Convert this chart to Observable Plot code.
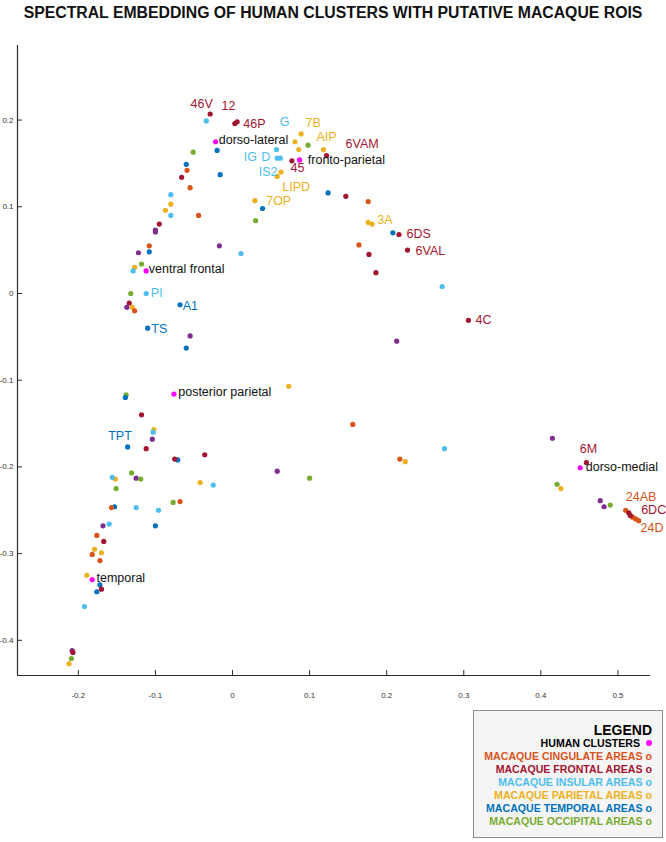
<!DOCTYPE html>
<html><head><meta charset="utf-8">
<script src="https://cdn.jsdelivr.net/npm/d3@7"></script>
<script src="https://cdn.jsdelivr.net/npm/@observablehq/plot@0.6"></script>
<style>
body{margin:0;background:#fff;font-family:"Liberation Sans",Arial,Helvetica,sans-serif;width:666px;height:842px;position:relative;overflow:hidden}
#title{position:absolute;left:0;top:4px;width:666px;text-align:center;font-weight:bold;font-size:15.8px;line-height:18px;color:#111;white-space:nowrap}
#chart{position:absolute;left:0;top:28px}
#legend{position:absolute;left:473px;top:710px;width:188px;height:126px;border:1px solid #8c8c8c;background:#f5f5f5;box-sizing:content-box}
#legend div{position:absolute;right:10px;white-space:nowrap;font-weight:bold;text-align:right}
</style></head><body>
<div id="title">SPECTRAL EMBEDDING OF HUMAN CLUSTERS WITH PUTATIVE MACAQUE ROIS</div>
<div id="chart"></div>
<div id="legend"></div>
<script>
// ---- data ----
const human = [[-0.022,0.175],[0.087,0.154],[-0.112,0.026],[-0.076,-0.116],[0.451,-0.201],[-0.182,-0.330]];
const frontal = [[-0.029,0.207],[0.003,0.196],[0.006,0.198],[-0.066,0.134],[-0.095,0.080],[0.077,0.153],[0.122,0.159],[0.147,0.112],[0.216,0.068],[0.227,0.050],[0.177,0.045],[0.186,0.024],[0.306,-0.031],[-0.134,-0.011],[-0.118,-0.140],[-0.112,-0.179],[-0.075,-0.191],[-0.036,-0.186],[0.459,-0.195],[0.514,-0.253],[0.516,-0.256],[-0.167,-0.286],[-0.170,-0.341],[-0.207,-0.414]];
const cingulate = [[-0.059,0.142],[-0.055,0.122],[-0.044,0.090],[-0.108,0.055],[0.176,0.106],[0.164,0.056],[-0.127,-0.020],[0.156,-0.151],[0.217,-0.191],[-0.068,-0.240],[-0.157,-0.247],[-0.176,-0.279],[-0.182,-0.301],[-0.172,-0.308],[0.510,-0.250],[0.519,-0.258],[0.523,-0.260],[0.527,-0.262]];
const insular = [[-0.034,0.199],[0.057,0.166],[0.058,0.156],[0.062,0.156],[-0.080,0.114],[-0.080,0.090],[0.011,0.046],[-0.129,0.026],[-0.112,0.000],[0.272,0.008],[-0.103,-0.160],[-0.156,-0.212],[-0.025,-0.221],[0.275,-0.179],[-0.125,-0.247],[-0.096,-0.250],[-0.160,-0.266],[-0.192,-0.361]];
const parietal = [[0.089,0.184],[0.081,0.175],[0.086,0.166],[0.118,0.166],[0.063,0.140],[0.058,0.135],[0.029,0.107],[-0.080,0.103],[-0.087,0.096],[0.176,0.082],[0.181,0.080],[-0.127,0.030],[-0.130,-0.016],[0.073,-0.107],[-0.102,-0.157],[-0.152,-0.214],[-0.042,-0.218],[0.224,-0.194],[0.426,-0.225],[-0.179,-0.295],[-0.170,-0.299],[-0.189,-0.325],[-0.212,-0.427]];
const temporal = [[-0.020,0.165],[-0.060,0.149],[-0.016,0.137],[0.039,0.098],[0.124,0.116],[0.208,0.070],[-0.108,0.048],[-0.068,-0.013],[-0.110,-0.040],[-0.060,-0.063],[-0.139,-0.120],[-0.136,-0.177],[-0.071,-0.192],[-0.153,-0.246],[-0.100,-0.268],[-0.172,-0.336],[-0.176,-0.344]];
const occipital = [[-0.051,0.163],[0.098,0.171],[0.030,0.084],[-0.118,0.034],[-0.132,0.000],[-0.138,-0.117],[-0.131,-0.207],[-0.119,-0.214],[-0.151,-0.225],[-0.077,-0.241],[0.100,-0.213],[0.421,-0.220],[0.490,-0.244],[-0.209,-0.421]];
const other = [[-0.100,0.073],[-0.100,0.071],[-0.017,0.055],[-0.122,0.047],[-0.137,-0.016],[-0.055,-0.049],[0.213,-0.055],[-0.104,-0.168],[-0.125,-0.213],[0.058,-0.205],[-0.168,-0.268],[0.415,-0.167],[0.477,-0.239],[0.482,-0.246],[-0.208,-0.412]];

// text labels: [text, group, x, y]
const roiLabels = [
 ["46V","frontal",-0.0545,0.218],["12","frontal",-0.0143,0.2157],["46P","frontal",0.0139,0.1949],
 ["G","insular",0.0613,0.1976],["7B","parietal",0.0947,0.1969],["AIP","parietal",0.1089,0.1803],
 ["6VAM","frontal",0.1466,0.1719],["IG","insular",0.0147,0.1575],["D","insular",0.0372,0.1575],
 ["IS2","insular",0.0341,0.1405],["45","frontal",0.0752,0.1442],["LIPD","parietal",0.0645,0.1226],
 ["7OP","parietal",0.0437,0.1061],["3A","parietal",0.1877,0.0850],["6DS","frontal",0.2257,0.0681],
 ["6VAL","frontal",0.2374,0.0490],["4C","frontal",0.3152,-0.0311],["PI","insular",-0.1060,0.0],
 ["A1","temporal",-0.0645,-0.0146],["TS","temporal",-0.1054,-0.0404],["TPT","temporal",-0.1612,-0.1641],
 ["6M","frontal",0.4505,-0.1791],["24AB","cingulate",0.5101,-0.2349],["6DC","frontal",0.5301,-0.2497],
 ["24D","cingulate",0.5292,-0.2705]
];
const humanLabels = [
 ["dorso-lateral",-0.0178,0.1773],["fronto-parietal",0.0977,0.1534],["ventral frontal",-0.1086,0.0285],
 ["posterior parietal",-0.0704,-0.1138],["dorso-medial",0.4582,-0.1999],["temporal",-0.1764,-0.3276]
];

const xTicks = [-0.2,-0.1,0,0.1,0.2,0.3,0.4,0.5];
const yTicks = [-0.4,-0.3,-0.2,-0.1,0,0.1,0.2];
const xDomain = [-0.2789,0.5422];
const yDomain = [-0.4406,0.286];

const groupNames = ["human","cingulate","frontal","insular","parietal","temporal","occipital","other"];
const groupColors = ["#ff00ff","#d95319","#a2142f","#4dbeee","#edb120","#0072bd","#77ac30","#7e2f8e"];
const legendTexts = ["HUMAN CLUSTERS","MACAQUE CINGULATE AREAS","MACAQUE FRONTAL AREAS","MACAQUE INSULAR AREAS","MACAQUE PARIETAL AREAS","MACAQUE TEMPORAL AREAS","MACAQUE OCCIPITAL AREAS"];

// ---- build ----
const color = g => groupColors[groupNames.indexOf(g)];
const drawOrder = [["other",other],["occipital",occipital],["temporal",temporal],["parietal",parietal],["insular",insular],["cingulate",cingulate],["frontal",frontal],["human",human]];
const pts = drawOrder.flatMap(([g,arr]) => arr.map(([x,y]) => ({g,x,y})));
const labs = roiLabels.map(([t,g,x,y]) => ({t,g,x,y}));
const hlabs = humanLabels.map(([t,x,y]) => ({t,x,y}));

const W = 666, H = 680, mL = 17, mR = 16, mT = 17, mB = 33;
const innerW = W - mL - mR, innerH = H - mT - mB;
const axisCol = "#2b2b2b";

const chart = Plot.plot({
  width: W, height: H,
  marginLeft: mL, marginRight: mR, marginTop: mT, marginBottom: mB,
  x: {domain: xDomain, label: null},
  y: {domain: yDomain, label: null},
  style: {fontFamily: "'Liberation Sans', Arial, sans-serif", fontSize: "8px", color: axisCol, background: "transparent", overflow: "visible"},
  marks: [
    Plot.axisX({ticks: xTicks, tickSize: 0, tickPadding: 17, tickFormat: d => String(d), fontSize: 8, fill: "#333", label: null}),
    Plot.axisY({ticks: yTicks, tickSize: 0, tickPadding: 4, tickFormat: d => String(d), fontSize: 8, fill: "#333", label: null}),
    Plot.ruleX(xTicks, {x: d => d, insetTop: innerH - 5, stroke: axisCol, strokeWidth: 1}),
    Plot.ruleY(yTicks, {y: d => d, insetRight: innerW - 5, stroke: axisCol, strokeWidth: 1}),
    Plot.ruleY([yDomain[0]], {stroke: axisCol, strokeWidth: 1.2}),
    Plot.ruleX([xDomain[0]], {stroke: axisCol, strokeWidth: 1.2}),
    Plot.dot(pts, {x: "x", y: "y", r: 2.6, fill: d => color(d.g), stroke: "none"}),
    Plot.text(labs, {x: "x", y: "y", text: "t", fill: d => color(d.g), textAnchor: "start", lineAnchor: "middle", fontSize: 12.5}),
    Plot.text(hlabs, {x: "x", y: "y", text: "t", fill: "#111", textAnchor: "start", lineAnchor: "middle", fontSize: 12.5})
  ]
});
document.getElementById("chart").appendChild(chart);

// legend
const lg = document.getElementById("legend");
const head = document.createElement("div");
head.textContent = "LEGEND";
head.style.cssText = "top:10px;font-size:14px;line-height:18px;color:#000";
lg.appendChild(head);
legendTexts.forEach((t, i) => {
  const d = document.createElement("div");
  d.style.cssText = `top:${26 + i * 13}px;font-size:10.6px;line-height:13px;color:${i === 0 ? "#000" : groupColors[i]}`;
  if (i === 0) {
    d.innerHTML = `${t} <span style="display:inline-block;width:6px;height:6px;border-radius:50%;background:${groupColors[0]};margin-left:3px;vertical-align:1px"></span>`;
  } else {
    d.textContent = t + " o";
  }
  lg.appendChild(d);
});
</script>
</body></html>
